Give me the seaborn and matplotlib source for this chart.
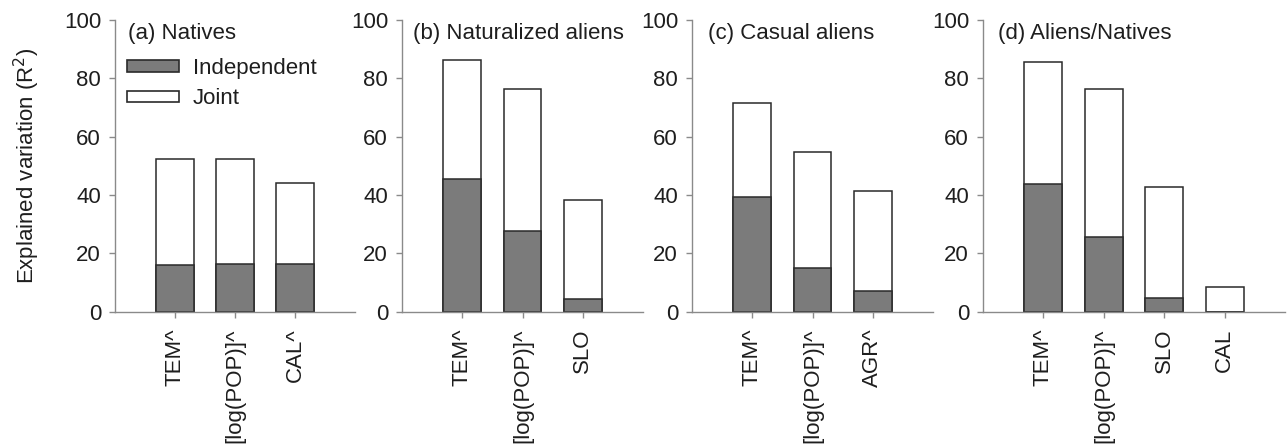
import matplotlib
matplotlib.use("Agg")
import matplotlib.pyplot as plt
import seaborn as sns
import pandas as pd
from matplotlib.patches import Patch

sns.set_theme(style="ticks")
plt.rcParams['font.family'] = ['Liberation Sans', 'DejaVu Sans']
FS = 16
plt.rcParams['font.size'] = FS

# ---- data ----
titles = ["(a) Natives", "(b) Naturalized aliens", "(c) Casual aliens", "(d) Aliens/Natives"]
vars_a = ["TEM^", "[log(POP)]^", "CAL^"]
vars_b = ["TEM^", "[log(POP)]^", "SLO"]
vars_c = ["TEM^", "[log(POP)]^", "AGR^"]
vars_d = ["TEM^", "[log(POP)]^", "SLO", "CAL"]
total_a = [52.2, 52.5, 44.1]
indep_a = [16.0, 16.4, 16.4]
total_b = [86.3, 76.5, 38.3]
indep_b = [45.5, 27.7, 4.2]
total_c = [71.4, 54.9, 41.5]
indep_c = [39.4, 15.1, 7.1]
total_d = [85.6, 76.5, 42.6, 8.4]
indep_d = [43.7, 25.5, 4.8, 0.0]

panels = [
    (titles[0], vars_a, total_a, indep_a),
    (titles[1], vars_b, total_b, indep_b),
    (titles[2], vars_c, total_c, indep_c),
    (titles[3], vars_d, total_d, indep_d),
]

W, H = 1287, 446
fig = plt.figure(figsize=(W / 100, H / 100), dpi=100)
lefts = [115, 402, 692, 983]
widths = [240, 241, 241, 302]
bottom_px, top_px = 311.7, 20.0
title_x = [0.054, 0.046, 0.066, 0.05]

GRAY = "#7b7b7b"
EDGE = "#2a2a2a"
SPINE = "#8a8a8a"
TXT = "#1e1e1e"

for i, (title, cats, tot, ind) in enumerate(panels):
    ax = fig.add_axes([lefts[i] / W, 1 - bottom_px / H, widths[i] / W, (bottom_px - top_px) / H])
    df = pd.DataFrame({"var": cats, "total": tot, "indep": ind})
    sns.barplot(data=df, x="var", y="total", color="white", edgecolor=EDGE,
                linewidth=1.1, width=0.63, saturation=1, ax=ax, order=cats)
    sns.barplot(data=df, x="var", y="indep", color=GRAY, edgecolor=EDGE,
                linewidth=1.1, width=0.63, saturation=1, ax=ax, order=cats)
    ax.set_xlim(-1, len(cats))
    ax.set_ylim(0, 100)
    ax.set_yticks([0, 20, 40, 60, 80, 100])
    ax.set_xlabel("")
    ax.set_ylabel("")
    sns.despine(ax=ax)
    for s in ("left", "bottom"):
        ax.spines[s].set_color(SPINE)
        ax.spines[s].set_linewidth(1.0)
    ax.tick_params(axis="y", length=4, width=1, color=SPINE, pad=6, labelsize=FS, labelcolor=TXT)
    ax.tick_params(axis="x", length=4, width=1, color=SPINE, pad=8, labelsize=FS,
                   labelcolor=TXT, labelrotation=90)
    ax.text(title_x[i], 0.99, title, transform=ax.transAxes, ha="left", va="top",
            fontsize=FS, color=TXT)
    if i == 0:
        ax.set_ylabel("Explained variation (R$^2$)", fontsize=FS, color=TXT, labelpad=16)
        handles = [Patch(facecolor=GRAY, edgecolor=EDGE, linewidth=1.2, label="Independent"),
                   Patch(facecolor="white", edgecolor=EDGE, linewidth=1.2, label="Joint")]
        ax.legend(handles=handles, loc="upper left", bbox_to_anchor=(0.05, 0.87),
                  frameon=False, borderpad=0, borderaxespad=0, handlelength=2.35,
                  handleheight=0.4, handletextpad=0.6, labelspacing=0.42, fontsize=FS,
                  labelcolor=TXT)

fig.savefig("out.png", dpi=100, facecolor="white")
